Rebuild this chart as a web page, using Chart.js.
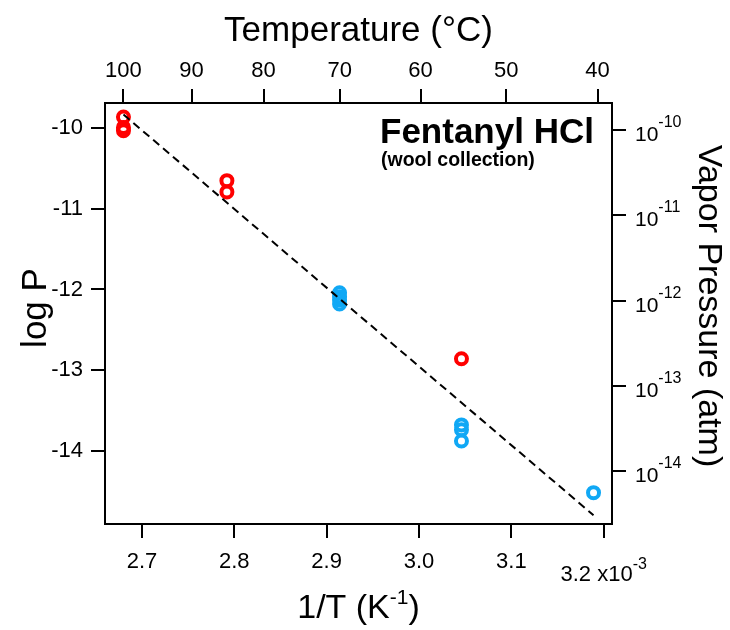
<!DOCTYPE html>
<html>
<head>
<meta charset="utf-8">
<script src="https://cdn.jsdelivr.net/npm/chart.js@4.4.0/dist/chart.umd.min.js"></script>
<style>
  html, body { margin: 0; padding: 0; background: #fff; }
  #wrap { width: 730px; height: 630px; }
</style>
</head>
<body>
<div id="wrap"><canvas id="vpChart"></canvas></div>
<script>
// 1/T in units of 10^-3 K^-1, log P
const redX = [2.680, 2.680, 2.680, 2.792, 2.792, 3.046];
const redY = [-9.86, -9.99, -10.03, -10.65, -10.79, -12.86];
const blueX = [2.914, 2.914, 2.914, 2.914, 3.046, 3.046, 3.046, 3.189];
const blueY = [-12.04, -12.09, -12.13, -12.18, -13.68, -13.74, -13.88, -14.52];
const fitX = [2.680, 3.189];
const fitY = [-9.83, -14.80];

const xTicks = [2.7, 2.8, 2.9, 3.0, 3.1, 3.2];
const tempTicks = [100, 90, 80, 70, 60, 50, 40];
const logTicks = [-10, -11, -12, -13, -14];
const vpTicks = [-10, -11, -12, -13, -14];

const FONT = '"Liberation Sans", Arial, sans-serif';
const RED = '#ff0000';
const BLUE = '#10a8f5';

function pts(xs, ys) {
    return xs.map(function(x, i) { return { x: x, y: ys[i] }; });
}

// draws a run of text pieces (used for superscripts)
function drawRich(ctx, parts, x, y, align) {
    let total = 0;
    parts.forEach(function(p) {
        ctx.font = p.font;
        p.w = ctx.measureText(p.text).width;
        total += p.w;
    });
    let cx = align === 'center' ? x - total / 2 : (align === 'right' ? x - total : x);
    parts.forEach(function(p) {
        ctx.font = p.font;
        ctx.fillText(p.text, cx, y + (p.dy || 0));
        cx += p.w;
    });
}

const extraText = {
    id: 'extraText',
    afterDraw(chart) {
        const ctx = chart.ctx;
        const area = chart.chartArea;
        const xs = chart.scales.x;
        const y2 = chart.scales.y2;
        ctx.save();
        ctx.fillStyle = '#000';

        // bottom tick marks (outward)
        ctx.strokeStyle = '#000';
        ctx.lineWidth = 2;
        xTicks.forEach(function(v) {
            const px = Math.round(xs.getPixelForValue(v));
            ctx.beginPath();
            ctx.moveTo(px, area.bottom);
            ctx.lineTo(px, area.bottom + 14);
            ctx.stroke();
        });

        // top title
        ctx.textAlign = 'center';
        ctx.textBaseline = 'middle';
        ctx.font = '35px ' + FONT;
        ctx.fillText('Temperature (°C)', (area.left + area.right) / 2, 31);

        // left title
        ctx.save();
        ctx.translate(36, 308);
        ctx.rotate(-Math.PI / 2);
        ctx.font = '35px ' + FONT;
        ctx.fillText('log P', 0, 0);
        ctx.restore();

        // right title
        ctx.save();
        ctx.translate(708, 306);
        ctx.rotate(Math.PI / 2);
        ctx.font = '34px ' + FONT;
        ctx.fillText('Vapor Pressure (atm)', 0, 0);
        ctx.restore();

        ctx.textAlign = 'left';
        ctx.textBaseline = 'alphabetic';

        // bottom title with superscript
        drawRich(ctx, [
            { text: '1/T (K', font: '34px ' + FONT },
            { text: '-1', font: '21px ' + FONT, dy: -14 },
            { text: ')', font: '34px ' + FONT }
        ], (area.left + area.right) / 2, 618, 'center');

        // right axis labels 10^n
        vpTicks.forEach(function(v) {
            const py = y2.getPixelForValue(v);
            drawRich(ctx, [
                { text: '10', font: '21px ' + FONT, dy: 11 },
                { text: String(v), font: '16px ' + FONT, dy: -3 }
            ], 635, py, 'left');
        });

        // last bottom tick label with multiplier
        drawRich(ctx, [
            { text: '3.2 x10', font: '22px ' + FONT },
            { text: '-3', font: '16px ' + FONT, dy: -12 }
        ], xs.getPixelForValue(3.2), 581, 'center');

        // annotation
        ctx.font = 'bold 35px ' + FONT;
        ctx.fillText('Fentanyl HCl', 380, 143);
        ctx.font = 'bold 19.5px ' + FONT;
        ctx.fillText('(wool collection)', 381, 166);

        ctx.restore();
    }
};

function axisLines() {
    return {
        grid: { drawOnChartArea: false, drawTicks: true, tickLength: 14, color: '#000', lineWidth: 2 },
        border: { display: true, color: '#000', width: 2 }
    };
}

const ctx = document.getElementById('vpChart').getContext('2d');
new Chart(ctx, {
    type: 'scatter',
    data: {
        datasets: [
            {
                label: 'fit',
                data: pts(fitX, fitY),
                showLine: true,
                borderColor: '#000',
                borderWidth: 2,
                borderDash: [8, 5],
                pointRadius: 0,
                fill: false,
                xAxisID: 'x',
                yAxisID: 'y'
            },
            {
                label: 'blue',
                data: pts(blueX, blueY),
                borderColor: BLUE,
                backgroundColor: 'rgba(0,0,0,0)',
                pointRadius: 5.5,
                pointBorderWidth: 4,
                xAxisID: 'x',
                yAxisID: 'y'
            },
            {
                label: 'red',
                data: pts(redX, redY),
                borderColor: RED,
                backgroundColor: 'rgba(0,0,0,0)',
                pointRadius: 5.5,
                pointBorderWidth: 4,
                xAxisID: 'x',
                yAxisID: 'y'
            }
        ]
    },
    options: {
        responsive: true,
        maintainAspectRatio: false,
        animation: false,
        devicePixelRatio: 1,
        layout: { padding: 0 },
        plugins: {
            legend: { display: false },
            tooltip: { enabled: false }
        },
        scales: {
            x: Object.assign(axisLines(), {
                type: 'linear',
                position: 'bottom',
                min: 2.66,
                max: 3.209,
                afterBuildTicks: function(s) { s.ticks = xTicks.map(function(v) { return { value: v }; }); },
                afterFit: function(s) { s.height = 106; },
                ticks: {
                    autoSkip: false, maxRotation: 0, padding: 11, color: '#000',
                    font: { family: FONT, size: 22 },
                    callback: function(v) { return Math.abs(v - 3.2) < 1e-9 ? '' : v.toFixed(1); }
                }
            }),
            x2: Object.assign(axisLines(), {
                type: 'linear',
                position: 'top',
                min: 2.66,
                max: 3.209,
                afterBuildTicks: function(s) {
                    s.ticks = tempTicks.map(function(t) { return { value: 1000 / (t + 273.15) }; });
                },
                afterFit: function(s) { s.height = 103; },
                ticks: {
                    autoSkip: false, maxRotation: 0, padding: 5, color: '#000',
                    font: { family: FONT, size: 22 },
                    callback: function(v, i) { return String(tempTicks[i]); }
                }
            }),
            y: Object.assign(axisLines(), {
                type: 'linear',
                position: 'left',
                min: -14.909,
                max: -9.687,
                afterBuildTicks: function(s) { s.ticks = logTicks.map(function(v) { return { value: v }; }); },
                afterFit: function(s) { s.width = 105; },
                ticks: {
                    autoSkip: false, padding: 8, color: '#000',
                    font: { family: FONT, size: 22 },
                    callback: function(v) { return String(v); }
                }
            }),
            y2: Object.assign(axisLines(), {
                type: 'linear',
                position: 'right',
                min: -14.615,
                max: -9.687,
                afterBuildTicks: function(s) { s.ticks = vpTicks.map(function(v) { return { value: v }; }); },
                afterFit: function(s) { s.width = 118; },
                ticks: { display: false }
            })
        }
    },
    plugins: [extraText]
});
</script>
</body>
</html>
